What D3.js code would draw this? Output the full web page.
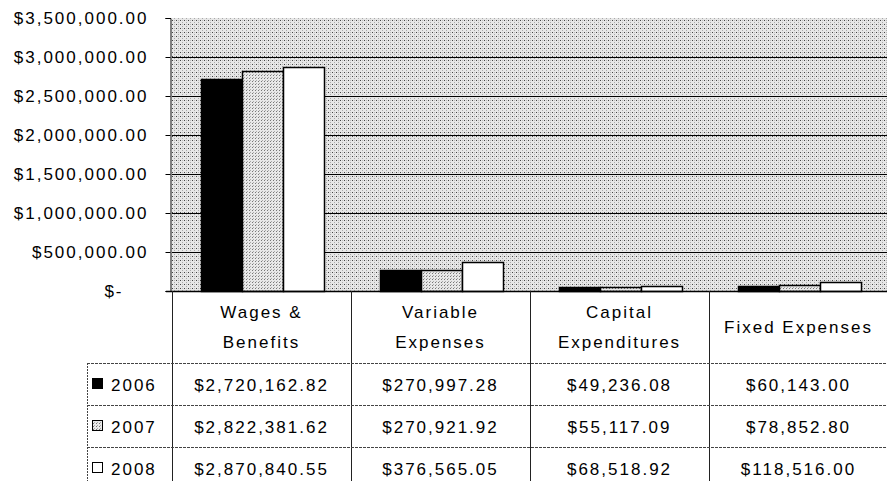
<!DOCTYPE html>
<html>
<head>
<meta charset="utf-8">
<script src="https://cdn.jsdelivr.net/npm/d3@7"></script>
<style>
body { margin: 0; background: #fff; }
text { font-family: "Liberation Sans", Arial, sans-serif; font-size: 17px; letter-spacing: 2px; fill: #000; }
</style>
</head>
<body>
<div id="chart"></div>
<script>
var width = 887, height = 481;

var categories = [["Wages &", "Benefits"], ["Variable", "Expenses"], ["Capital", "Expenditures"], ["Fixed Expenses"]];
var years = ["2006", "2007", "2008"];
var v2006 = [2720162.82, 270997.28, 49236.08, 60143.00];
var v2007 = [2822381.62, 270921.92, 55117.09, 78852.80];
var v2008 = [2870840.55, 376565.05, 68518.92, 118516.00];
var yTicks = [0, 500000, 1000000, 1500000, 2000000, 2500000, 3000000, 3500000];

var series = [v2006, v2007, v2008];

var svg = d3.select('#chart').append('svg')
    .attr('width', width)
    .attr('height', height);

var defs = svg.append('defs');

// dotted background like the scanned fill
var bg = defs.append('pattern').attr('id', 'bgdots')
    .attr('width', 4).attr('height', 4).attr('patternUnits', 'userSpaceOnUse');
bg.append('rect').attr('width', 4).attr('height', 4).attr('fill', '#e6e6e6');
bg.append('rect').attr('x', 0).attr('y', 0).attr('width', 1).attr('height', 1).attr('fill', '#444');
bg.append('rect').attr('x', 2).attr('y', 2).attr('width', 1).attr('height', 1).attr('fill', '#aaa');
bg.append('rect').attr('x', 2).attr('y', 0).attr('width', 1).attr('height', 1).attr('fill', '#bbb');

var lt = defs.append('pattern').attr('id', 'ltdots')
    .attr('width', 3).attr('height', 3).attr('patternUnits', 'userSpaceOnUse');
lt.append('rect').attr('width', 3).attr('height', 3).attr('fill', '#e8e8e8');
lt.append('rect').attr('x', 0).attr('y', 0).attr('width', 1).attr('height', 1).attr('fill', '#777');
lt.append('rect').attr('x', 1).attr('y', 2).attr('width', 1).attr('height', 1).attr('fill', '#aaa');

var fills = ['#000', 'url(#ltdots)', '#fff'];

var plotLeft = 172, plotRight = 888, plotTop = 18, plotBottom = 291;

var x = d3.scaleBand().domain(d3.range(categories.length)).range([plotLeft, plotRight]);
var xi = d3.scaleBand().domain(years).range([29, 152]);
var y = d3.scaleLinear().domain([0, 3500000]).range([plotBottom, plotTop]);

// plot area
svg.append('rect')
    .attr('x', plotLeft).attr('y', plotTop)
    .attr('width', plotRight - plotLeft).attr('height', plotBottom - plotTop)
    .attr('fill', 'url(#bgdots)');

// gridlines
svg.selectAll('.grid').data(yTicks.slice(1, -1)).enter().append('line')
    .attr('x1', plotLeft).attr('x2', plotRight)
    .attr('y1', function(d) { return Math.round(y(d)) + 0.5; })
    .attr('y2', function(d) { return Math.round(y(d)) + 0.5; })
    .attr('stroke', '#000');

// bars
years.forEach(function(yr, j) {
    svg.selectAll('.bar' + yr).data(series[j]).enter().append('rect')
        .attr('x', function(d, i) { return Math.round(x(i) + xi(yr)) + 0.5; })
        .attr('y', function(d) { return Math.round(y(d)) + 0.5; })
        .attr('width', xi.bandwidth())
        .attr('height', function(d) { return Math.round(y(0)) - Math.round(y(d)); })
        .attr('fill', fills[j])
        .attr('stroke', '#000')
        .attr('stroke-width', 1.5);
});

// y axis
var yAxis = d3.axisLeft(y).tickValues(yTicks).tickSize(5).tickPadding(20)
    .tickFormat(function(d) { return d === 0 ? '$-' : '$' + d3.format(',.2f')(d); });
var ga = svg.append('g').attr('transform', 'translate(' + (plotLeft - 1.5) + ',0)').call(yAxis);
ga.attr('font-family', null).attr('font-size', null);
ga.select('.domain').attr('stroke', '#000');
ga.selectAll('.tick line').attr('stroke', '#000');
ga.selectAll('text').attr('fill', '#000')
    .attr('x', function(d) { return d === 0 ? -47 : -22; });

// x axis line
svg.append('line').attr('x1', plotLeft - 6).attr('x2', plotRight)
    .attr('y1', plotBottom + 0.5).attr('y2', plotBottom + 0.5).attr('stroke', '#000').attr('stroke-width', 1.5);

// data table
var rowTop = 363, rowH = 42, tableBottom = 481, legLeft = 87;

svg.selectAll('.vline').data(d3.range(categories.length)).enter().append('line')
    .attr('x1', function(i) { return x(i) + 0.5; })
    .attr('x2', function(i) { return x(i) + 0.5; })
    .attr('y1', plotBottom).attr('y2', tableBottom)
    .attr('stroke', '#222');

svg.append('line').attr('x1', legLeft + 0.5).attr('x2', legLeft + 0.5)
    .attr('y1', rowTop).attr('y2', tableBottom)
    .attr('stroke', '#444').attr('stroke-dasharray', '2,1');

svg.selectAll('.hline').data([0, 1, 2]).enter().append('line')
    .attr('x1', legLeft).attr('x2', plotRight)
    .attr('y1', function(r) { return rowTop + r * rowH + 0.5; })
    .attr('y2', function(r) { return rowTop + r * rowH + 0.5; })
    .attr('stroke', '#444').attr('stroke-dasharray', '3,1');

// header labels
categories.forEach(function(lines, i) {
    var cx = x(i) + x.bandwidth() / 2;
    var t = svg.append('text').attr('text-anchor', 'middle');
    var y0 = lines.length === 1 ? 333 : 318;
    lines.forEach(function(s, k) {
        t.append('tspan').attr('x', cx).attr('y', y0 + k * 30).text(s);
    });
});

// row values
series.forEach(function(vals, j) {
    var ty = rowTop + j * rowH + 28;
    svg.selectAll('.val' + j).data(vals).enter().append('text')
        .attr('text-anchor', 'middle')
        .attr('x', function(d, i) { return x(i) + x.bandwidth() / 2; })
        .attr('y', ty)
        .text(function(d) { return '$' + d3.format(',.2f')(d); });

    svg.append('rect')
        .attr('x', 92.5).attr('y', ty - 12.5)
        .attr('width', 10).attr('height', 10)
        .attr('fill', fills[j]).attr('stroke', '#000');
    svg.append('text').attr('x', 111).attr('y', ty).text(years[j]);
});
</script>
</body>
</html>
